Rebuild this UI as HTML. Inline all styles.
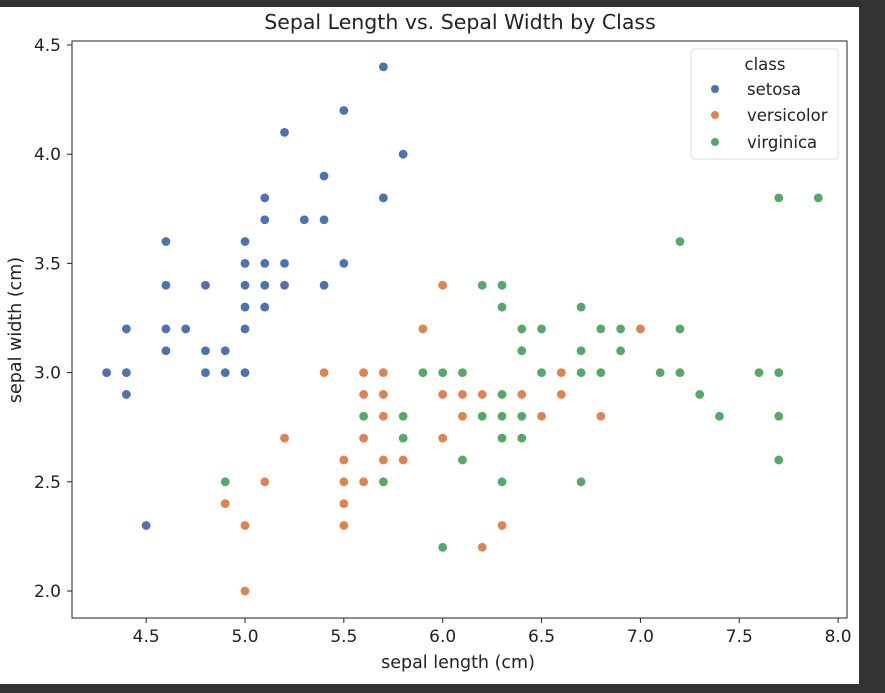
<!DOCTYPE html>
<html><head><meta charset="utf-8"><style>
body{margin:0;background:#333;}
svg{display:block;font-family:"DejaVu Sans","Liberation Sans",sans-serif;}
</style></head><body>
<svg id="chart" width="885" height="693">
<rect x="0" y="0" width="885" height="693" fill="#333"/>
<rect x="0" y="7" width="859" height="677" fill="#fff"/>
<text x="460" y="29" font-size="20.5" text-anchor="middle" fill="#222">Sepal Length vs. Sepal Width by Class</text>
<g id="axes"></g>
<g id="points"></g>
<rect x="72" y="41" width="775" height="577" fill="none" stroke="#222" stroke-width="1"/>
<text x="458" y="668" font-size="17.5" text-anchor="middle" fill="#222">sepal length (cm)</text>
<text transform="translate(21,330) rotate(-90)" font-size="17.5" text-anchor="middle" fill="#222">sepal width (cm)</text>
<g>
<rect x="691" y="49" width="147" height="110" rx="3" fill="#fff" stroke="#ddd"/>
<text x="765" y="70" font-size="16.5" text-anchor="middle" fill="#222">class</text>
<circle cx="715" cy="89" r="4" fill="#4c72b0"/>
<text x="747" y="95" font-size="16.5" fill="#222">setosa</text>
<circle cx="715" cy="115" r="4" fill="#dd8452"/>
<text x="747" y="121" font-size="16.5" fill="#222">versicolor</text>
<circle cx="715" cy="142" r="4" fill="#55a868"/>
<text x="747" y="148" font-size="16.5" fill="#222">virginica</text>
</g>
</svg>
<script>
const xTicks=[4.5,5.0,5.5,6.0,6.5,7.0,7.5,8.0];
const yTicks=[2.0,2.5,3.0,3.5,4.0,4.5];
const setosaX=[5.1,4.9,4.7,4.6,5.0,5.4,4.6,5.0,4.4,4.9,5.4,4.8,4.8,4.3,5.8,5.7,5.4,5.1,5.7,5.1,5.4,5.1,4.6,5.1,4.8,5.0,5.0,5.2,5.2,4.7,4.8,5.4,5.2,5.5,4.9,5.0,5.5,4.9,4.4,5.1,5.0,4.5,4.4,5.0,5.1,4.8,5.1,4.6,5.3,5.0];
const setosaY=[3.5,3.0,3.2,3.1,3.6,3.9,3.4,3.4,2.9,3.1,3.7,3.4,3.0,3.0,4.0,4.4,3.9,3.5,3.8,3.8,3.4,3.7,3.6,3.3,3.4,3.0,3.4,3.5,3.4,3.2,3.1,3.4,4.1,4.2,3.1,3.2,3.5,3.1,3.0,3.4,3.5,2.3,3.2,3.5,3.8,3.0,3.8,3.2,3.7,3.3];
const versicolorX=[7.0,6.4,6.9,5.5,6.5,5.7,6.3,4.9,6.6,5.2,5.0,5.9,6.0,6.1,5.6,6.7,5.6,5.8,6.2,5.6,5.9,6.1,6.3,6.1,6.4,6.6,6.8,6.7,6.0,5.7,5.5,5.5,5.8,6.0,5.4,6.0,6.7,6.3,5.6,5.5,5.5,6.1,5.8,5.0,5.6,5.7,5.7,6.2,5.1,5.7];
const versicolorY=[3.2,3.2,3.1,2.3,2.8,2.8,3.3,2.4,2.9,2.7,2.0,3.0,2.2,2.9,2.9,3.1,3.0,2.7,2.2,2.5,3.2,2.8,2.5,2.8,2.9,3.0,2.8,3.0,2.9,2.6,2.4,2.4,2.7,2.7,3.0,3.4,3.1,2.3,3.0,2.5,2.6,3.0,2.6,2.3,2.7,3.0,2.9,2.9,2.5,2.8];
const virginicaX=[6.3,5.8,7.1,6.3,6.5,7.6,4.9,7.3,6.7,7.2,6.5,6.4,6.8,5.7,5.8,6.4,6.5,7.7,7.7,6.0,6.9,5.6,7.7,6.3,6.7,7.2,6.2,6.1,6.4,7.2,7.4,7.9,6.4,6.3,6.1,7.7,6.3,6.4,6.0,6.9,6.7,6.9,5.8,6.8,6.7,6.7,6.3,6.5,6.2,5.9];
const virginicaY=[3.3,2.7,3.0,2.9,3.0,3.0,2.5,2.9,2.5,3.6,3.2,2.7,3.0,2.5,2.8,3.2,3.0,3.8,2.6,2.2,3.2,2.8,2.8,2.7,3.3,3.2,2.8,3.0,2.8,3.0,2.8,3.8,2.8,2.8,2.6,3.0,3.4,3.1,3.0,3.1,3.1,3.1,2.7,3.2,3.3,3.0,2.5,3.0,3.4,3.0];
const NS="http://www.w3.org/2000/svg";
function sx(v){return 245+(v-5)*197.7;}
function sy(v){return 372.6-(v-3)*218.4;}
const ax=document.getElementById('axes');
function mk(t,a){const e=document.createElementNS(NS,t);for(const k in a)e.setAttribute(k,a[k]);return e;}
xTicks.forEach(v=>{
 const l=mk('line',{x1:sx(v),x2:sx(v),y1:618,y2:623,stroke:'#222'});
 
 
 ax.appendChild(l);
 const t=mk('text',{x:sx(v),y:642,'font-size':17,'text-anchor':'middle',fill:'#222'});
 t.textContent=v.toFixed(1);
 
 
 ax.appendChild(t);
});
yTicks.forEach(v=>{
 const l=mk('line',{x1:67,x2:72,y1:sy(v),y2:sy(v),stroke:'#222'});
 
 
 ax.appendChild(l);
 const t=mk('text',{x:61,y:sy(v)+6,'font-size':17,'text-anchor':'end',fill:'#222'});
 t.textContent=v.toFixed(1);
 
 
 ax.appendChild(t);
});
const pg=document.getElementById('points');
[[setosaX,setosaY,'#4c72b0','setosa'],[versicolorX,versicolorY,'#dd8452','versicolor'],[virginicaX,virginicaY,'#55a868','virginica']].forEach(([xs,ys,c,n])=>{
 xs.forEach((x,i)=>{
  const p=mk('circle',{cx:sx(x),cy:sy(ys[i]),r:4.8,fill:c,stroke:'#fff','stroke-width':0.8});
  
  
  pg.appendChild(p);
 });
});
</script>
</body></html>
